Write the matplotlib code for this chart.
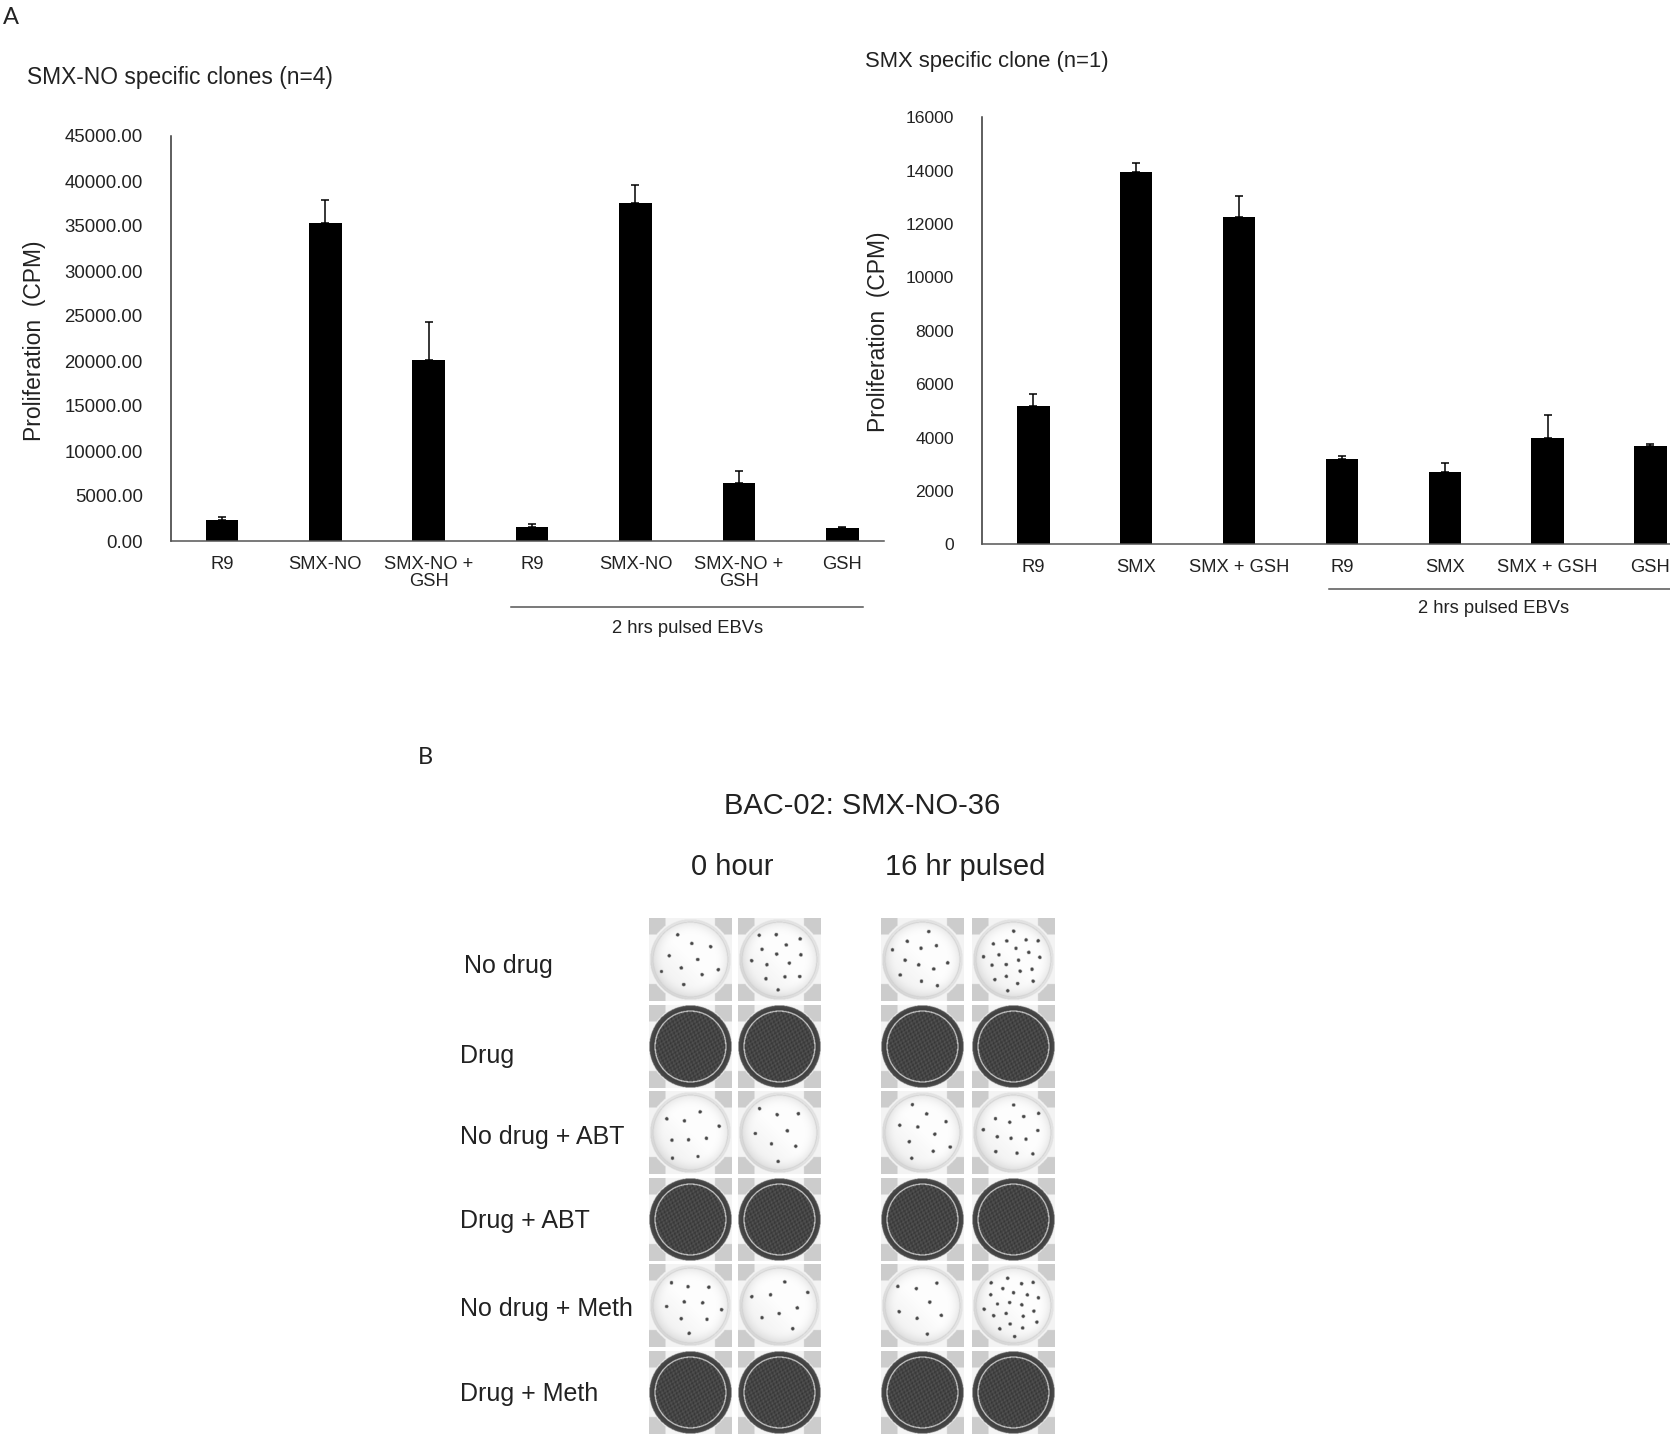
import numpy as np
import matplotlib
matplotlib.use("Agg")
import matplotlib.pyplot as plt

plt.rcParams['font.family'] = ['Liberation Sans', 'DejaVu Sans']

# ---------------- data ----------------
left_title = "SMX-NO specific clones (n=4)"
left_cats = ["R9", "SMX-NO", "SMX-NO +\nGSH", "R9", "SMX-NO", "SMX-NO +\nGSH", "GSH"]
left_values = [2330, 35300, 20150, 1590, 37590, 6480, 1410]
left_err = [370, 2570, 4200, 320, 1910, 1260, 140]
left_ticks = [0, 5000, 10000, 15000, 20000, 25000, 30000, 35000, 40000, 45000]

right_title = "SMX specific clone (n=1)"
right_cats = ["R9", "SMX", "SMX + GSH", "R9", "SMX", "SMX + GSH", "GSH"]
right_values = [5200, 13950, 12270, 3190, 2710, 3990, 3670]
right_err = [450, 320, 780, 120, 330, 840, 100]
right_ticks = [0, 2000, 4000, 6000, 8000, 10000, 12000, 14000, 16000]

group_label = "2 hrs pulsed EBVs"
ylabel = "Proliferation  (CPM)"

b_title = "BAC-02: SMX-NO-36"
b_cols = ["0 hour", "16 hr pulsed"]
b_rows = ["No drug", "Drug", "No drug + ABT", "Drug + ABT", "No drug + Meth", "Drug + Meth"]
b_dark = [0, 1, 0, 1, 0, 1]
b_colonies = [[10, 14, 12, 20],
              [0, 0, 0, 0],
              [9, 8, 10, 13],
              [0, 0, 0, 0],
              [10, 8, 8, 22],
              [0, 0, 0, 0]]

# ---------------- figure ----------------
W, H = 1670, 1434
fig = plt.figure(figsize=(W / 100, H / 100), dpi=100)
TXT = '#222222'


def ftext(x, y, s, **kw):
    kw.setdefault('color', TXT)
    return fig.text(x / W, 1 - y / H, s, **kw)


def bar_panel(rect, cats, vals, errs, ticks, xlim, fmt, tfs, grp):
    ax = fig.add_axes(rect)
    x = np.arange(len(cats))
    ax.bar(x, vals, width=0.315, color='black',
           yerr=[np.zeros(len(errs)), errs],
           error_kw=dict(ecolor='black', elinewidth=1.1, capsize=3, capthick=1.1))
    ax.set_xlim(*xlim)
    ax.set_ylim(ticks[0], ticks[-1])
    ax.set_yticks(ticks)
    ax.set_yticklabels([fmt.format(t) for t in ticks])
    ax.set_xticks(x)
    ax.set_xticklabels(cats, linespacing=1.0)
    for s in ['top', 'right']:
        ax.spines[s].set_visible(False)
    ax.spines['left'].set_color('#333333')
    ax.spines['bottom'].set_color('#555555')
    ax.spines['left'].set_linewidth(1.1)
    ax.spines['bottom'].set_linewidth(1.1)
    ax.tick_params(axis='y', length=0, pad=20, labelsize=tfs, colors=TXT)
    ax.tick_params(axis='x', length=0, pad=10.5, labelsize=13.2, colors=TXT)
    tr = ax.get_xaxis_transform()
    (x0, x1, yl, xt, yt) = grp
    ax.plot([x0, x1], [yl, yl], transform=tr, clip_on=False, color='#555555', lw=1.1)
    ax.text(xt, yt, group_label, transform=tr, ha='center', va='center',
            fontsize=13.2, color=TXT)
    return ax


ax1 = bar_panel([170.5 / W, 1 - 541 / H, (884 - 170.5) / W, 405 / H],
                left_cats, left_values, left_err, left_ticks, (-0.498, 6.404),
                "{:.2f}", 13.4, (2.80, 6.20, -0.163, 4.50, -0.217))
ax2 = bar_panel([982 / W, 1 - 544.3 / H, 688 / W, 427 / H],
                right_cats, right_values, right_err, right_ticks, (-0.5, 6.19),
                "{:d}", 12.6, (2.87, 6.19, -0.1056, 4.477, -0.151))

ftext(27, 77.5, left_title, ha='left', va='center', fontsize=16.4)
ftext(865, 61, right_title, ha='left', va='center', fontsize=15.8)
ftext(35, 341, ylabel, ha='center', va='center', rotation=90, fontsize=16.5)
ftext(878, 331.5, ylabel, ha='center', va='center', rotation=90, fontsize=16.5)

ftext(2.5, 17, "A", ha='left', va='center', fontsize=17, family=['Lato', 'DejaVu Sans'])
ftext(418, 757.5, "B", ha='left', va='center', fontsize=17, family=['Lato', 'DejaVu Sans'])

# ---------------- panel B : wells ----------------
axb = fig.add_axes([0, 0, 1, 1], zorder=-1)
axb.set_xlim(0, W)
axb.set_ylim(H, 0)
axb.axis('off')

ftext(862, 806.5, b_title, ha='center', va='center', fontsize=21)
ftext(732.6, 866.6, b_cols[0], ha='center', va='center', fontsize=21)
ftext(965.6, 866.6, b_cols[1], ha='center', va='center', fontsize=21)

label_y = [966, 1056, 1137, 1221, 1309, 1394]
label_x = [463.8, 460, 459.5, 460, 460, 460]
for lab, lx, ly in zip(b_rows, label_x, label_y):
    ftext(lx, ly, lab, ha='left', va='center', fontsize=18)


def well_image(dark, n_dots, k0, N=166):
    t = np.linspace(-1, 1, N)
    X, Y = np.meshgrid(t, t)
    R = np.hypot(X, Y)
    img = np.full((N, N), 0.95)
    corner = (np.abs(X) > 0.6) & (np.abs(Y) > 0.6) & (R > 1.02)
    img[corner] = 0.80
    if dark:
        disk = R <= 0.995
        img[disk] = 0.24 + 0.06 * np.clip((R[disk] - 0.88) / 0.11, 0, 1)
        inner = R < 0.845
        tex = (np.sin(X * 53 + Y * 17) * np.sin(Y * 47 - X * 11)
               + 0.6 * np.sin(X * 91 - Y * 67) * np.sin(X * 23 + Y * 83))
        img[inner] = 0.27 + 0.07 * tex[inner]
        ring = (R >= 0.845) & (R < 0.872)
        img[ring] = 0.85
    else:
        disk = R <= 0.975
        shade = 0.99 - 0.12 * np.clip((R - 0.6) / 0.375, 0, 1) ** 2 \
            - 0.04 * np.clip(-X + Y, 0, 2)
        img[disk] = shade[disk]
        ring = (R >= 0.895) & (R < 0.918)
        img[ring] = 0.82
        for k in range(n_dots):
            rr = 0.78 * np.sqrt((k + 0.5) / n_dots)
            th = (k + k0) * 2.39996
            cx, cy = rr * np.cos(th), rr * np.sin(th)
            d = np.hypot(X - cx, Y - cy) < 0.042
            img[d] = 0.28
    return img


col_x = [648.5, 738, 881, 971.5]
cell = 83.0
row_y0, row_pitch = 918.3, 86.5
for i in range(len(b_rows)):
    y0 = row_y0 + i * row_pitch
    for j, x0 in enumerate(col_x):
        img = well_image(b_dark[i], b_colonies[i][j], 3 * i + 7 * j)
        axb.imshow(img, cmap='gray', vmin=0, vmax=1, aspect='auto',
                   extent=(x0, x0 + cell, y0 + cell, y0), interpolation='bilinear')

fig.savefig("out.png", dpi=100)
